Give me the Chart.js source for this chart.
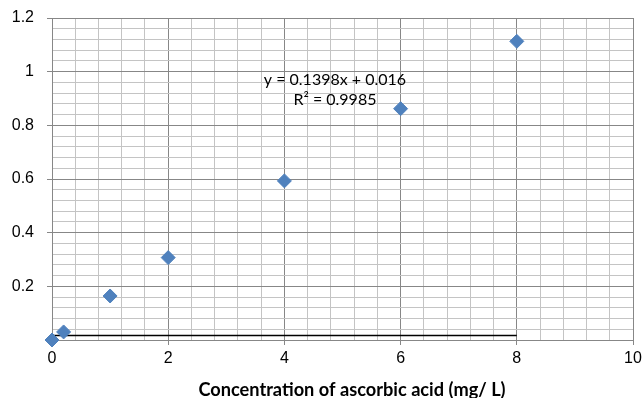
<!DOCTYPE html>
<html>
<head>
<meta charset="utf-8">
<script src="https://cdn.jsdelivr.net/npm/chart.js@4"></script>
<style>
  html, body { margin: 0; padding: 0; background: #fff; }
  #wrap { width: 644px; height: 398px; }
</style>
</head>
<body>
<div id="wrap"><canvas id="calChart"></canvas></div>
<script>
// data
const concentration = [0, 0.2, 1, 2, 4, 6, 8];
const absorbance = [0.0, 0.03, 0.164, 0.307, 0.593, 0.862, 1.113];
const baseX = [0, 8];
const baseY = [0.017, 0.017];

const xMajor = [0, 2, 4, 6, 8, 10];
const yMajor = [0.2, 0.4, 0.6, 0.8, 1, 1.2];
const xMinorStep = 0.4;
const yMinorStep = 0.04;

const equationText = ['y = 0.1398x + 0.016', 'R\u00b2 = 0.9985'];
const axisTitle = 'Concentration of ascorbic acid (mg/ L)';

const MAJOR = '#878787';
const MINOR = '#c4c4c4';

function isMajor(v, list) {
    return list.some(m => Math.abs(m - v) < 1e-6);
}

function makeTicks(max, step) {
    const out = [];
    const n = Math.round(max / step);
    for (let i = 0; i <= n; i++) out.push({ value: +(i * step).toFixed(4) });
    return out;
}

// equation + axis title
const textPlugin = {
    id: 'textPlugin',
    afterDraw(chart) {
        const c = chart.ctx, xs = chart.scales.x, ys = chart.scales.y;
        c.save();
        c.fillStyle = '#000';
        c.textAlign = 'center';
        c.textBaseline = 'alphabetic';
        c.font = "16px Lato, 'Liberation Sans', sans-serif";
        const ex = xs.getPixelForValue(4.87);
        c.fillText(equationText[0], ex, ys.getPixelForValue(0.950));
        c.fillText(equationText[1], ex, ys.getPixelForValue(0.876));
        // title width in the picture is about 307px
        c.font = "bold 100px Lato, 'Liberation Sans', sans-serif";
        const size = 100 * 307 / c.measureText(axisTitle).width;
        c.font = 'bold ' + size.toFixed(1) + "px Lato, 'Liberation Sans', sans-serif";
        c.fillText(axisTitle, 352, 396);
        c.restore();
    }
};

new Chart(document.getElementById('calChart'), {
    type: 'scatter',
    data: {
        datasets: [{
            label: 'Absorbance',
            data: concentration.map((x, i) => ({ x: x, y: absorbance[i] })),
            pointStyle: 'rectRot',
            pointRadius: 7,
            pointHoverRadius: 7,
            backgroundColor: '#4f81bd',
            borderColor: '#4f81bd',
            borderWidth: 1,
            clip: false,
            order: 0
        }, {
            label: 'base',
            type: 'line',
            data: baseX.map((x, i) => ({ x: x, y: baseY[i] })),
            borderColor: '#000',
            borderWidth: 1.5,
            pointRadius: 0,
            order: 1
        }]
    },
    options: {
        responsive: true,
        maintainAspectRatio: false,
        animation: false,
        layout: { padding: { top: 18, right: 11, left: 0, bottom: 0 } },
        plugins: { legend: { display: false }, tooltip: { enabled: false } },
        scales: {
            x: {
                type: 'linear', min: 0, max: 10,
                afterBuildTicks: s => { s.ticks = makeTicks(10, xMinorStep); },
                afterFit: s => { s.height = 58; s.paddingLeft = 0; s.paddingRight = 0; },
                border: { color: MAJOR },
                grid: {
                    color: c => isMajor(c.tick.value, xMajor) ? MAJOR : MINOR,
                    tickColor: c => isMajor(c.tick.value, xMajor) ? MAJOR : 'rgba(0,0,0,0)',
                    tickLength: 5
                },
                ticks: {
                    autoSkip: false, maxRotation: 0, padding: 4, color: '#000',
                    font: { family: "'Liberation Sans', Arial, sans-serif", size: 16 },
                    callback: v => isMajor(v, xMajor) ? String(v) : ''
                }
            },
            y: {
                type: 'linear', min: 0, max: 1.2,
                afterBuildTicks: s => { s.ticks = makeTicks(1.2, yMinorStep); },
                afterFit: s => { s.width = 52; s.paddingTop = 0; s.paddingBottom = 0; },
                border: { color: MAJOR },
                grid: {
                    color: c => isMajor(c.tick.value, yMajor) ? MAJOR : MINOR,
                    tickColor: c => isMajor(c.tick.value, yMajor) ? MAJOR : 'rgba(0,0,0,0)',
                    tickLength: 5
                },
                ticks: {
                    autoSkip: false, padding: 13, color: '#000',
                    font: { family: "'Liberation Sans', Arial, sans-serif", size: 16 },
                    callback: v => isMajor(v, yMajor) ? String(+v.toFixed(2)) : ''
                }
            }
        }
    },
    plugins: [textPlugin]
});
</script>
</body>
</html>
